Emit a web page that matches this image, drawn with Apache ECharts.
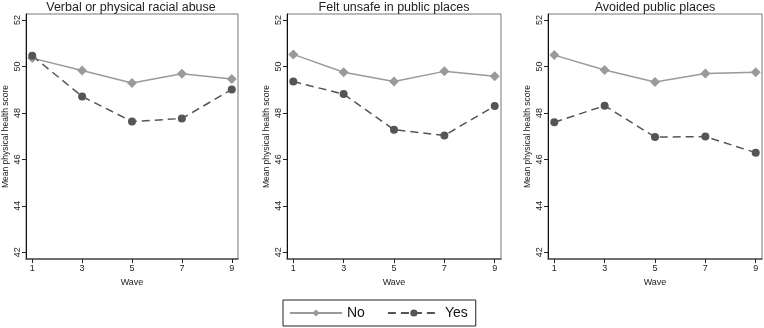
<!DOCTYPE html>
<html>
<head>
<meta charset="utf-8">
<script src="https://cdn.jsdelivr.net/npm/echarts@6/dist/echarts.min.js"></script>
<style>
  html, body { margin: 0; padding: 0; background: #fff; }
  #chart { width: 764px; height: 328px; }
</style>
</head>
<body>
<div id="chart"></div>
<script>
// waves on the x axis
var waves = [1, 3, 5, 7, 9];
var yTicks = [42, 44, 46, 48, 50, 52];

var panelTitles = ['Verbal or physical racial abuse', 'Felt unsafe in public places', 'Avoided public places'];

// "No" series per panel
var noAbuse = [50.36, 49.83, 49.29, 49.69, 49.46];
var noUnsafe = [50.52, 49.75, 49.35, 49.79, 49.58];
var noAvoided = [50.49, 49.85, 49.33, 49.70, 49.75];

// "Yes" series per panel
var yesAbuse = [50.46, 48.71, 47.63, 47.76, 49.01];
var yesUnsafe = [49.35, 48.81, 47.28, 47.03, 48.30];
var yesAvoided = [47.60, 48.31, 46.96, 46.98, 46.29];

var noData = [noAbuse, noUnsafe, noAvoided];
var yesData = [yesAbuse, yesUnsafe, yesAvoided];

var font = 'Liberation Sans, Arial, sans-serif';
var grids = [
  { left: 24, width: 214 },
  { left: 287, width: 214 },
  { left: 548, width: 214 }
];

function pairs(vals) {
  return waves.map(function (w, i) { return [w, vals[i]]; });
}

var option = {
  animation: false,
  backgroundColor: '#fff',
  textStyle: { fontFamily: font },
  title: [],
  grid: [],
  xAxis: [],
  yAxis: [],
  legend: {
    left: 283,
    top: 300,
    padding: [6, 8, 6, 6],
    itemGap: 22,
    itemWidth: 52,
    itemHeight: 9,
    borderColor: '#222',
    borderWidth: 1,
    textStyle: { fontSize: 14, color: '#111', fontFamily: font },
    data: ['No', 'Yes']
  },
  series: []
};

grids.forEach(function (g, i) {
  option.grid.push({
    left: g.left, width: g.width, top: 14, height: 245,
    show: true, borderColor: '#777', borderWidth: 1
  });
  option.title.push({
    text: panelTitles[i],
    left: g.left + g.width / 2,
    textAlign: 'center',
    top: 1,
    padding: 0,
    textStyle: { fontSize: 12.5, fontWeight: 'normal', color: '#222', fontFamily: font }
  });
  option.xAxis.push({
    gridIndex: i,
    type: 'value',
    min: 0.75,
    max: 9.25,
    name: 'Wave',
    nameLocation: 'middle',
    nameGap: 18,
    nameTextStyle: { fontSize: 9, color: '#222' },
    axisLine: { lineStyle: { color: '#555', width: 1.5 } },
    axisTick: { show: true, length: 4, customValues: waves, lineStyle: { color: '#222' } },
    axisLabel: { customValues: waves, fontSize: 9, color: '#222', margin: 5 },
    splitLine: { show: false }
  });
  option.yAxis.push({
    gridIndex: i,
    type: 'value',
    min: 41.71,
    max: 52.26,
    name: 'Mean physical health score',
    nameLocation: 'middle',
    nameRotate: 90,
    nameGap: 16,
    nameTextStyle: { fontSize: 8.5, color: '#222' },
    axisLine: { show: true, lineStyle: { color: '#111', width: 1 } },
    axisTick: { show: true, length: 4, customValues: yTicks, lineStyle: { color: '#222' } },
    axisLabel: { customValues: yTicks, rotate: 90, fontSize: 9, color: '#222', margin: 4 },
    splitLine: { show: false }
  });
  option.series.push({
    name: 'No',
    type: 'line',
    xAxisIndex: i,
    yAxisIndex: i,
    data: pairs(noData[i]),
    symbol: 'diamond',
    symbolSize: 10,
    itemStyle: { color: '#9a9a9a' },
    lineStyle: { color: '#9a9a9a', width: 1.5 }
  });
  option.series.push({
    name: 'Yes',
    type: 'line',
    xAxisIndex: i,
    yAxisIndex: i,
    data: pairs(yesData[i]),
    symbol: 'circle',
    symbolSize: 8,
    itemStyle: { color: '#555' },
    lineStyle: { color: '#555', width: 1.5, type: [8, 5] }
  });
});

var chart = echarts.init(document.getElementById('chart'));
chart.setOption(option);
</script>
</body>
</html>
